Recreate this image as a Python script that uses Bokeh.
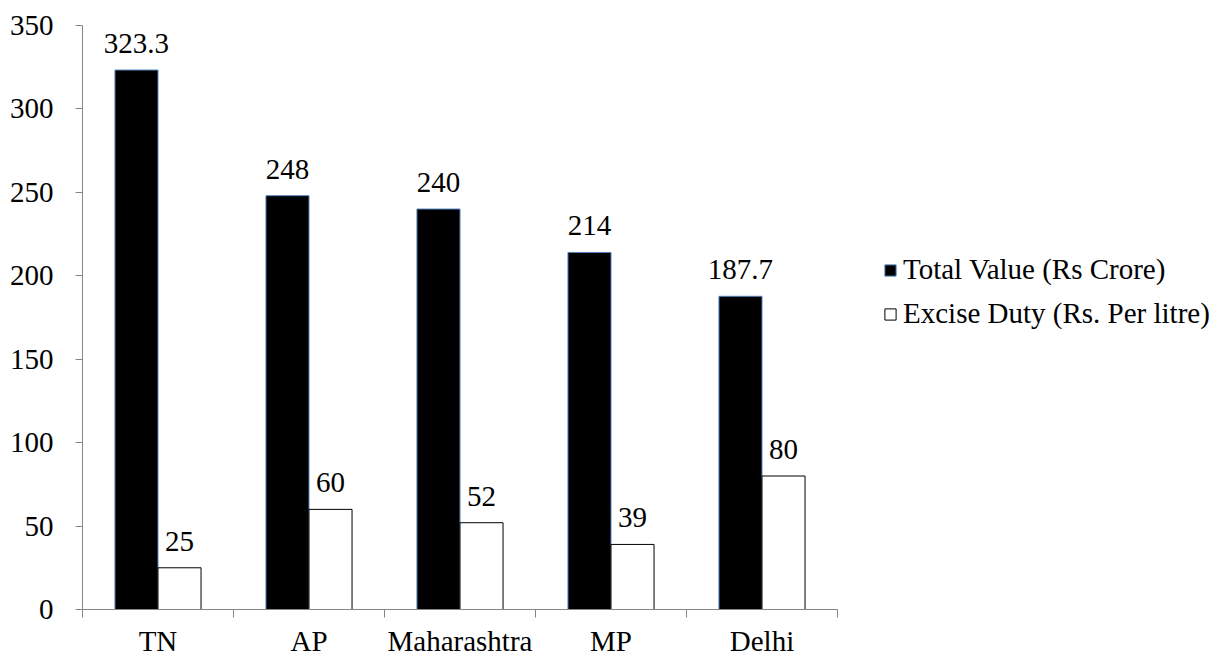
from bokeh.plotting import figure
from bokeh.models import ColumnDataSource, FixedTicker, LabelSet, Legend, LegendItem, Range1d
from bokeh.transform import dodge
from bokeh.embed import file_html
from bokeh.resources import INLINE

categories = ["TN", "AP", "Maharashtra", "MP", "Delhi"]
total_value = [323.3, 248, 240, 214, 187.7]
excise_duty = [25, 60, 52, 39, 80]
y_ticks = [0, 50, 100, 150, 200, 250, 300, 350]
series_names = ["Total Value (Rs Crore)", "Excise Duty (Rs. Per litre)"]

FONT = "Liberation Serif"
FS = "29px"
AX = "#868686"
BW = 0.285

xs = [i + 0.5 for i in range(len(categories))]
src = ColumnDataSource(dict(
    x=xs,
    tv=total_value,
    ed=excise_duty,
    tv_lbl=[f"{v:g}" for v in total_value],
    ed_lbl=[f"{v:g}" for v in excise_duty],
))

p = figure(frame_width=755, frame_height=584, output_backend="svg", toolbar_location=None,
           x_range=Range1d(0, len(categories)), y_range=Range1d(0, 350),
           min_border_left=82, min_border_right=0, min_border_top=25, min_border_bottom=52)
p.outline_line_color = None
p.grid.visible = False
p.background_fill_color = "white"
p.border_fill_color = "white"

r1 = p.vbar(x=dodge("x", -BW / 2), top="tv", width=BW, source=src,
            fill_color="black", line_color="#4F81BD", line_width=1)
r2 = p.vbar(x=dodge("x", BW / 2), top="ed", width=BW, source=src,
            fill_color="white", line_color="black", line_width=1)

for col, lbl, off in [("tv", "tv_lbl", -BW / 2), ("ed", "ed_lbl", BW / 2)]:
    ls = LabelSet(x=dodge("x", off), y=col, text=lbl, source=src,
                  text_align="center", text_baseline="bottom", y_offset=17,
                  text_font=FONT, text_font_size=FS, text_color="black")
    p.add_layout(ls)

# x axis: labels at category centres, ticks at category boundaries
p.xaxis.ticker = FixedTicker(ticks=xs, minor_ticks=list(range(len(categories) + 1)))
p.xaxis.major_label_overrides = {x: c for x, c in zip(xs, categories)}
p.xaxis.major_tick_out = 0
p.xaxis.major_tick_in = 0
p.xaxis.minor_tick_out = 8
p.xaxis.minor_tick_in = 0
p.xaxis.minor_tick_line_color = AX
p.xaxis.major_label_standoff = 7
p.xaxis.axis_line_color = AX

p.yaxis.ticker = FixedTicker(ticks=y_ticks)
p.yaxis.major_tick_out = 7
p.yaxis.major_tick_in = 0
p.yaxis.minor_tick_line_color = None
p.yaxis.major_label_standoff = 22
p.yaxis.axis_line_color = AX
p.yaxis.major_tick_line_color = AX

for ax in (p.xaxis, p.yaxis):
    ax.major_label_text_font = FONT
    ax.major_label_text_font_size = FS
    ax.major_label_text_color = "black"

legend = Legend(items=[LegendItem(label=series_names[0], renderers=[r1]),
                       LegendItem(label=series_names[1], renderers=[r2])],
                location=(46, 279), orientation="vertical",
                glyph_width=14, glyph_height=14, label_standoff=6,
                spacing=11, padding=0, margin=0,
                label_text_font=FONT, label_text_font_size=FS, label_text_color="black",
                border_line_color=None, background_fill_alpha=0)
p.add_layout(legend, "right")

open("out.html", "w").write(file_html(p, INLINE))
